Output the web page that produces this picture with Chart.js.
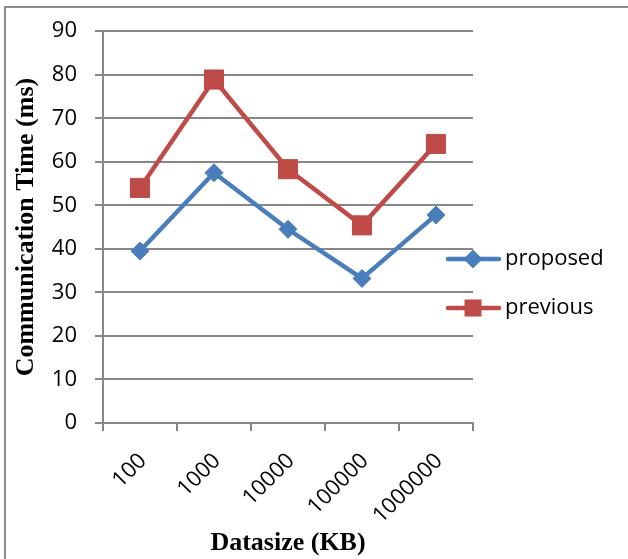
<!DOCTYPE html>
<html>
<head>
<meta charset="utf-8">
<script src="https://cdn.jsdelivr.net/npm/chart.js@4/dist/chart.umd.min.js"></script>
<style>
  html, body { margin: 0; padding: 0; background: #fff; }
  #wrap { position: relative; width: 628px; height: 559px; overflow: hidden; }
  #frame { position: absolute; left: 4px; top: 6px; width: 700px; height: 700px; border: 2px solid #8c8c8c; box-sizing: border-box; }
  #chart { position: absolute; left: 0; top: 0; }
</style>
</head>
<body>
<div id="wrap">
  <div id="frame"></div>
  <canvas id="chart" width="628" height="559"></canvas>
</div>
<script>
// Data
const datasizes = ["100", "1000", "10000", "100000", "1000000"];
const proposed = [39.5, 57.5, 44.5, 33.2, 47.8];
const previous = [54.0, 78.9, 58.3, 45.4, 64.1];
const seriesNames = ["proposed", "previous"];
const yMin = 0, yMax = 90, yStep = 10;

const gridColor = "#878787";
const blue = "#4a7ebb";
const red = "#be4b48";
const tickFont = { family: "'Open Sans'", size: 22 };
const titleFont = { family: "'Liberation Serif'", size: 26, weight: "bold" };

// Legend drawn to the right, overlapping the plot edge like the original
const sideLegend = {
    id: "sideLegend",
    afterDraw(chart) {
        const c = chart.ctx;
        const rows = [259, 308];
        chart.data.datasets.forEach((ds, i) => {
            const y = rows[i];
            c.save();
            c.strokeStyle = ds.borderColor;
            c.lineWidth = 4.5;
            c.lineCap = "round";
            c.beginPath();
            c.moveTo(448, y);
            c.lineTo(499, y);
            c.stroke();
            c.fillStyle = ds.borderColor;
            c.beginPath();
            if (ds.pointStyle === "rectRot") {
                c.moveTo(473, y - 9.5);
                c.lineTo(482.5, y);
                c.lineTo(473, y + 9.5);
                c.lineTo(463.5, y);
            } else {
                c.rect(464.5, y - 8.5, 17, 17);
            }
            c.closePath();
            c.fill();
            c.fillStyle = "#000";
            c.font = "22px 'Open Sans'";
            c.textAlign = "left";
            c.textBaseline = "middle";
            c.fillText(ds.label, 505, y);
            c.restore();
        });
    }
};

new Chart(document.getElementById("chart"), {
    type: "line",
    data: {
        labels: datasizes,
        datasets: [
            {
                label: seriesNames[0],
                data: proposed,
                borderColor: blue,
                backgroundColor: blue,
                borderWidth: 4.5,
                pointStyle: "rectRot",
                pointRadius: 9,
                pointBorderWidth: 1,
                pointBackgroundColor: blue,
                tension: 0,
                clip: false
            },
            {
                label: seriesNames[1],
                data: previous,
                borderColor: red,
                backgroundColor: red,
                borderWidth: 4.5,
                pointStyle: "rect",
                pointRadius: 13.5,
                pointBorderWidth: 1,
                pointBackgroundColor: red,
                tension: 0,
                clip: false
            }
        ]
    },
    options: {
        responsive: false,
        animation: false,
        devicePixelRatio: 1,
        layout: { padding: { left: 0, top: 31, right: 155, bottom: 0 } },
        plugins: {
            legend: { display: false },
            tooltip: { enabled: false }
        },
        scales: {
            x: {
                offset: true,
                afterFit(scale) { scale.height = 136; },
                grid: {
                    offset: true,
                    drawOnChartArea: false,
                    drawTicks: true,
                    tickLength: 8,
                    color: gridColor,
                    lineWidth: 2
                },
                border: { color: gridColor, width: 2 },
                ticks: {
                    minRotation: 45,
                    maxRotation: 45,
                    autoSkip: false,
                    padding: 17,
                    labelOffset: 3,
                    color: "#000",
                    font: tickFont
                },
                title: {
                    display: true,
                    text: "Datasize (KB)",
                    color: "#000",
                    font: titleFont,
                    padding: 0
                }
            },
            y: {
                min: yMin,
                max: yMax,
                afterFit(scale) { scale.width = 103; },
                grid: {
                    drawTicks: true,
                    tickLength: 8,
                    color: gridColor,
                    lineWidth: 2
                },
                border: { color: gridColor, width: 2 },
                ticks: {
                    stepSize: yStep,
                    padding: 18,
                    color: "#000",
                    font: tickFont
                },
                title: {
                    display: true,
                    text: "Communication Time (ms)",
                    color: "#000",
                    font: titleFont,
                    padding: { top: 11, bottom: 0 }
                }
            }
        }
    },
    plugins: [sideLegend]
});
</script>
</body>
</html>
